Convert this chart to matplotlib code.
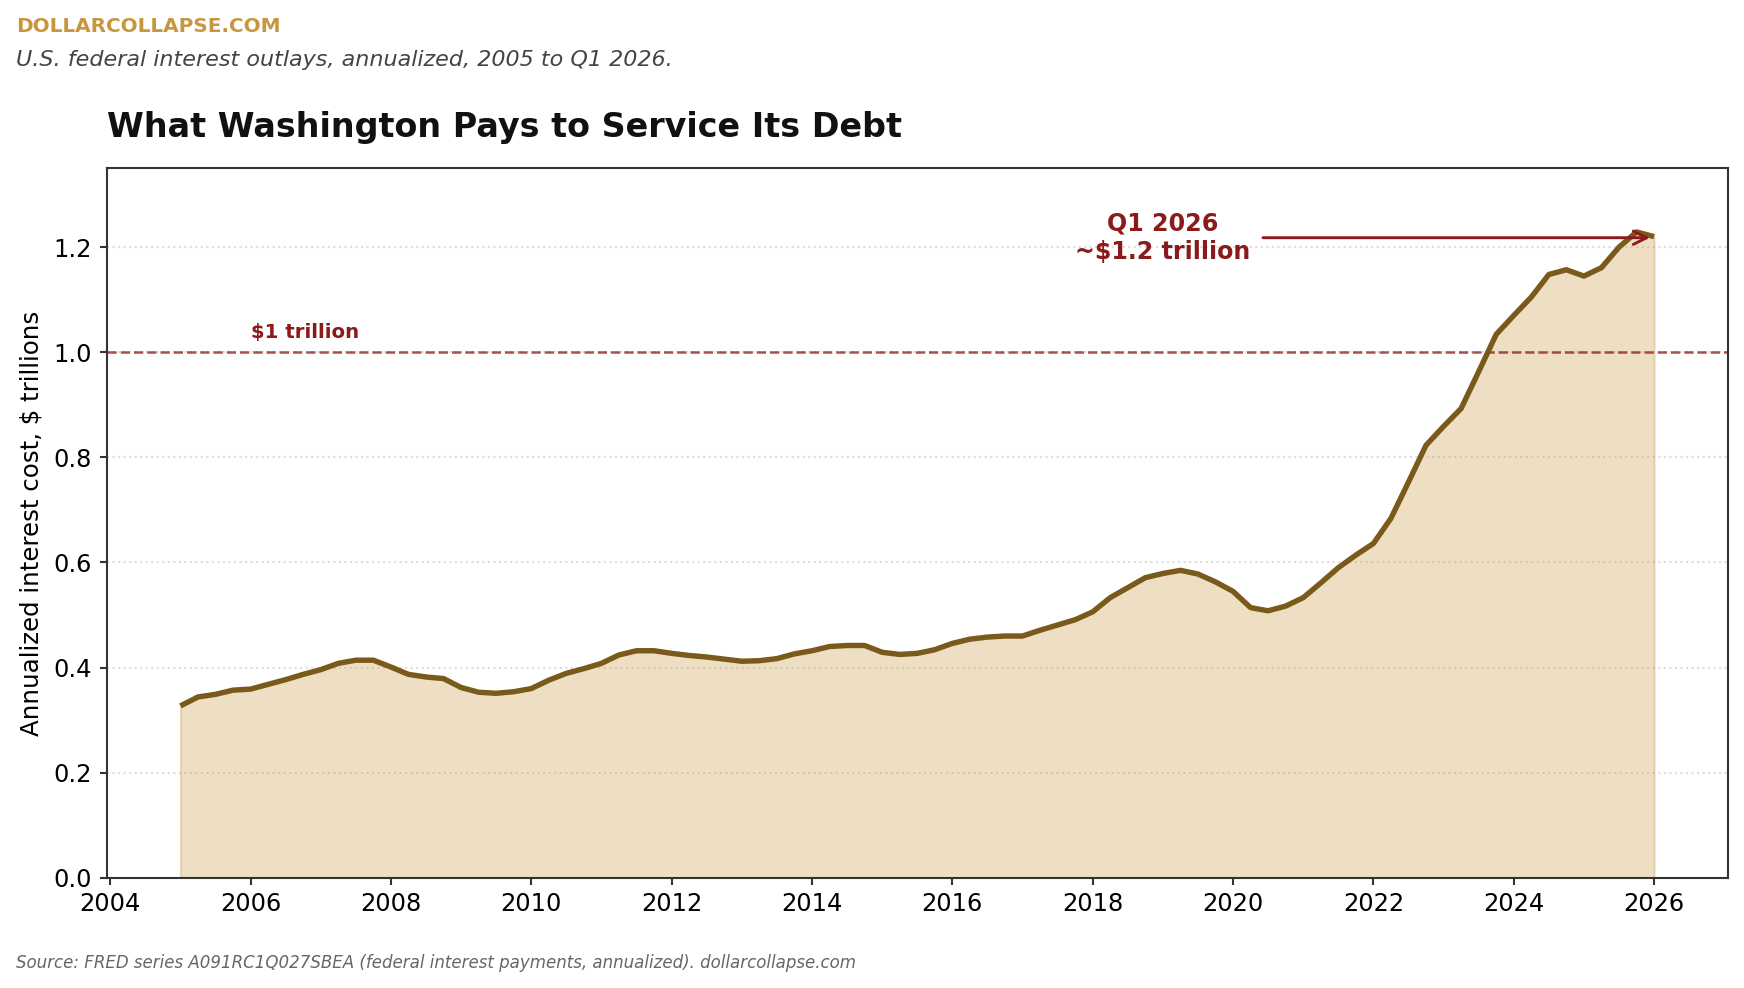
import numpy as np
import matplotlib
matplotlib.use("Agg")
import matplotlib.pyplot as plt

# ---- data (quarterly, 2005 Q1 to 2026 Q1, $ trillions annualized) ----
years = [2005, 2006, 2007, 2008, 2009, 2010, 2011, 2012, 2013, 2014, 2015,
         2016, 2017, 2018, 2019, 2020, 2021, 2022, 2023, 2024, 2025, 2026]
interest = [
    0.327, 0.344, 0.349, 0.357,   # 2005
    0.359, 0.368, 0.377, 0.387,   # 2006
    0.396, 0.408, 0.414, 0.414,   # 2007
    0.401, 0.387, 0.382, 0.379,   # 2008
    0.362, 0.353, 0.351, 0.354,   # 2009
    0.360, 0.376, 0.389, 0.398,   # 2010
    0.408, 0.424, 0.432, 0.432,   # 2011
    0.427, 0.423, 0.420, 0.416,   # 2012
    0.412, 0.413, 0.417, 0.426,   # 2013
    0.432, 0.440, 0.442, 0.442,   # 2014
    0.429, 0.425, 0.427, 0.434,   # 2015
    0.446, 0.454, 0.458, 0.460,   # 2016
    0.460, 0.471, 0.481, 0.491,   # 2017
    0.506, 0.533, 0.552, 0.571,   # 2018
    0.579, 0.585, 0.578, 0.563,   # 2019
    0.545, 0.514, 0.508, 0.517,   # 2020
    0.533, 0.561, 0.590, 0.614,   # 2021
    0.636, 0.684, 0.753, 0.823,   # 2022
    0.859, 0.893, 0.963, 1.034,   # 2023
    1.070, 1.105, 1.148, 1.157,   # 2024
    1.145, 1.161, 1.200, 1.229,   # 2025
    1.220,                        # 2026 Q1
]
quarters = [y + q / 4 for y in years[:-1] for q in range(4)] + [years[-1]]

xtick_values = [2004, 2006, 2008, 2010, 2012, 2014, 2016, 2018, 2020, 2022, 2024, 2026]
xtick_labels = [str(v) for v in xtick_values]
ytick_values = [0.0, 0.2, 0.4, 0.6, 0.8, 1.0, 1.2]
ytick_labels = ["0.0", "0.2", "0.4", "0.6", "0.8", "1.0", "1.2"]

threshold = 1.0
threshold_label = "$1 trillion"
annot_text = "Q1 2026\n~$1.2 trillion"

header = "DOLLARCOLLAPSE.COM"
subtitle = "U.S. federal interest outlays, annualized, 2005 to Q1 2026."
title = "What Washington Pays to Service Its Debt"
ylabel = "Annualized interest cost, $ trillions"
source = ("Source: FRED series A091RC1Q027SBEA (federal interest payments, "
          "annualized). dollarcollapse.com")

# ---- styles ----
GOLD = "#C8963E"
LINE = "#7A5A1A"
RED = "#8B1A1A"

plt.rcParams["font.family"] = ["DejaVu Sans"]

fig = plt.figure(figsize=(1744 / 150, 988 / 150), dpi=150)
ax = fig.add_axes([0.0612, 0.1116, 0.9295, 0.7180])

ax.fill_between(quarters, interest, 0, color=GOLD, alpha=0.3, lw=1, zorder=1)
ax.plot(quarters, interest, color=LINE, lw=2.6, zorder=3, solid_capstyle="butt")

ax.axhline(threshold, color=RED, lw=1.2, ls="--", alpha=0.75, zorder=2)
ax.text(2006.0, threshold + 0.019, threshold_label, color=RED, fontsize=9.5,
        fontweight="bold", ha="left", va="bottom")

ax.annotate(annot_text, xy=(quarters[-1], 1.218), xytext=(2019.0, 1.218),
            ha="center", va="center", fontsize=11.4, fontweight="bold", color=RED,
            arrowprops=dict(arrowstyle="->", color=RED, lw=1.4,
                            shrinkA=4, shrinkB=2, mutation_scale=16))

ax.set_xlim(2003.95, 2027.05)
ax.set_ylim(0, 1.35)
ax.set_xticks(xtick_values, xtick_labels)
ax.set_yticks(ytick_values, ytick_labels)
ax.tick_params(labelsize=11.6, color="#333333", width=1.0, length=3.5)
ax.grid(axis="y", ls=":", color="#dddddd", lw=1.0, zorder=0)
ax.set_axisbelow(True)
for s in ax.spines.values():
    s.set_color("#333333")
    s.set_linewidth(1.0)

ax.set_ylabel(ylabel, fontsize=11.75, labelpad=5)
ax.set_title(title, loc="left", fontsize=16, fontweight="bold", color="#111111", pad=15)

fig.text(0.009, 0.9680, header, color=GOLD, fontsize=9.6, fontweight="bold",
         ha="left", va="baseline")
fig.text(0.009, 0.9337, subtitle, color="#444444", fontsize=10.7, style="italic",
         ha="left", va="baseline")
fig.text(0.0092, 0.0202, source, color="#666666", fontsize=8, style="italic",
         ha="left", va="baseline")

fig.savefig("out.png", dpi=150)
